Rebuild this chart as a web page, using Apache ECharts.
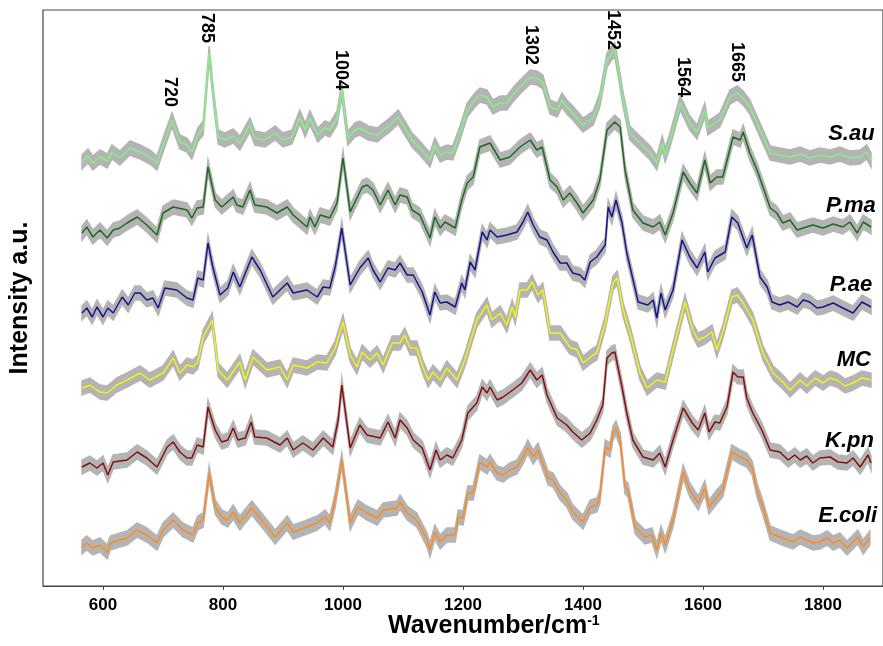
<!DOCTYPE html>
<html>
<head>
<meta charset="utf-8">
<script src="https://cdn.jsdelivr.net/npm/echarts@6/dist/echarts.min.js"></script>
<style>
  html, body { margin: 0; padding: 0; background: #fff; }
  #chart { width: 883px; height: 646px; }
</style>
</head>
<body>
<div id="chart"></div>
<script>
// spectra: [wavenumber, intensity (a.u., offset per strain)]
const sau = [[565,424],[575,430],[583,423],[595,429],[607,425],[615,434],[628,428],[645,438],[662,434],[678,429],[690,423],[703,446],[715,466],[728,444],[740,441],[748,434],[758,451],[767,458],[777,533],[783,496],[792,449],[803,446],[817,450],[828,443],[845,461],[853,448],[870,446],[887,453],[900,446],[915,449],[928,469],[937,456],[945,468],[958,451],[970,458],[978,456],[990,468],[998,496],[1008,448],[1020,456],[1028,458],[1042,453],[1057,451],[1067,456],[1078,461],[1092,469],[1103,458],[1115,446],[1128,438],[1145,426],[1153,441],[1162,431],[1173,434],[1183,433],[1195,453],[1207,476],[1220,486],[1228,491],[1240,489],[1250,479],[1262,483],[1273,483],[1283,491],[1295,499],[1312,509],[1323,508],[1333,504],[1345,479],[1357,476],[1365,486],[1373,479],[1383,473],[1400,461],[1417,468],[1428,486],[1440,526],[1448,533],[1453,536],[1458,519],[1467,486],[1478,453],[1495,443],[1512,433],[1523,423],[1532,443],[1537,431],[1545,446],[1562,483],[1578,463],[1590,454],[1603,476],[1608,458],[1628,466],[1645,489],[1657,493],[1667,488],[1678,479],[1695,456],[1712,433],[1728,431],[1745,429],[1762,432],[1778,428],[1795,431],[1812,429],[1828,432],[1845,428],[1862,429],[1873,434],[1880,426]];
const pma = [[565,353],[573,359],[583,349],[595,356],[607,348],[617,356],[628,358],[640,363],[657,369],[673,361],[690,351],[700,373],[717,379],[740,376],[748,368],[757,378],[767,379],[775,419],[787,386],[798,379],[817,389],[823,381],[833,379],[845,396],[853,381],[873,379],[890,373],[907,379],[917,371],[940,359],[945,369],[953,359],[962,371],[978,368],[990,383],[1000,428],[1012,374],[1032,399],[1040,401],[1050,396],[1062,381],[1075,396],[1087,381],[1095,391],[1107,389],[1115,376],[1128,371],[1145,348],[1153,369],[1162,358],[1170,364],[1187,358],[1198,386],[1207,403],[1217,409],[1228,439],[1245,443],[1262,426],[1278,429],[1295,439],[1312,446],[1323,436],[1332,439],[1345,406],[1357,399],[1367,386],[1378,393],[1390,383],[1400,373],[1417,386],[1428,406],[1440,456],[1453,464],[1462,459],[1470,416],[1483,376],[1500,363],[1517,359],[1528,364],[1537,351],[1550,373],[1567,414],[1578,403],[1590,393],[1603,426],[1612,403],[1623,409],[1633,409],[1650,449],[1662,446],[1667,454],[1678,433],[1690,416],[1700,399],[1712,378],[1723,373],[1733,363],[1745,366],[1757,356],[1767,358],[1783,361],[1800,358],[1817,362],[1833,359],[1845,364],[1857,353],[1867,364],[1880,359]];
const pae = [[565,273],[573,278],[582,269],[590,279],[600,269],[608,278],[617,273],[632,289],[642,281],[653,293],[662,293],[673,286],[683,288],[692,278],[703,298],[723,296],[740,288],[750,286],[758,308],[767,306],[775,343],[783,319],[795,291],[808,298],[817,314],[828,299],[848,329],[862,316],[883,289],[907,303],[917,293],[940,296],[957,289],[967,299],[978,298],[987,319],[998,358],[1012,301],[1028,318],[1042,328],[1050,316],[1062,304],[1075,318],[1087,316],[1095,323],[1107,311],[1117,311],[1132,294],[1145,271],[1153,294],[1162,283],[1173,284],[1187,279],[1198,303],[1203,296],[1212,324],[1220,316],[1232,354],[1240,346],[1245,356],[1257,349],[1273,351],[1290,354],[1300,364],[1308,374],[1317,361],[1328,349],[1340,346],[1350,334],[1362,323],[1373,323],[1383,313],[1395,311],[1403,306],[1412,324],[1423,329],[1437,341],[1442,379],[1448,369],[1455,386],[1465,363],[1473,333],[1492,284],[1508,281],[1517,286],[1523,268],[1530,293],[1537,276],[1550,296],[1565,346],[1578,329],[1590,318],[1603,334],[1608,314],[1620,328],[1637,334],[1648,369],[1658,363],[1673,338],[1682,351],[1695,309],[1707,299],[1715,284],[1728,281],[1742,284],[1757,279],[1767,286],[1778,284],[1790,278],[1800,279],[1817,283],[1833,278],[1850,273],[1865,284],[1880,279]];
const mc = [[565,198],[578,201],[595,194],[607,193],[623,201],[640,206],[662,213],[678,206],[700,213],[717,228],[728,213],[740,221],[750,219],[758,224],[767,249],[782,266],[792,216],[807,206],[828,224],[837,206],[850,229],[873,216],[895,219],[907,206],[917,221],[940,218],[957,224],[973,223],[987,238],[1000,264],[1012,231],[1023,219],[1032,234],[1045,226],[1057,233],[1067,221],[1082,243],[1095,243],[1103,251],[1112,238],[1123,238],[1133,219],[1142,206],[1150,214],[1162,206],[1173,218],[1190,206],[1203,226],[1223,266],[1240,281],[1248,266],[1262,273],[1273,261],[1282,279],[1287,269],[1295,296],[1307,296],[1315,304],[1325,291],[1333,296],[1345,253],[1362,253],[1378,239],[1390,236],[1400,223],[1417,231],[1423,233],[1437,263],[1450,303],[1457,308],[1467,276],[1478,254],[1495,213],[1507,198],[1523,206],[1537,204],[1550,236],[1570,284],[1583,256],[1592,246],[1603,249],[1615,254],[1623,236],[1633,254],[1648,289],[1657,291],[1667,283],[1683,266],[1700,233],[1717,213],[1733,204],[1745,196],[1762,206],[1773,200],[1787,208],[1800,203],[1812,208],[1823,206],[1837,200],[1850,203],[1865,208],[1880,206]];
const kpn = [[565,119],[578,123],[590,118],[600,123],[608,111],[617,124],[640,126],[657,134],[673,128],[690,119],[707,139],[717,144],[728,134],[740,128],[748,128],[757,141],[767,139],[775,179],[787,156],[798,144],[808,146],[817,158],[825,146],[837,148],[847,164],[853,149],[873,148],[895,141],[907,148],[917,136],[933,143],[950,136],[967,148],[983,139],[992,166],[998,201],[1012,138],[1028,161],[1040,151],[1062,148],[1075,164],[1087,148],[1095,166],[1107,158],[1117,146],[1132,138],[1145,116],[1155,136],[1162,126],[1173,131],[1183,128],[1198,146],[1208,173],[1223,183],[1232,199],[1240,193],[1245,199],[1257,186],[1267,189],[1283,196],[1298,203],[1312,216],[1323,206],[1332,211],[1340,191],[1357,168],[1373,161],[1383,154],[1398,146],[1412,153],[1423,166],[1433,181],[1440,228],[1448,233],[1453,234],[1465,199],[1473,173],[1483,146],[1500,129],[1517,126],[1528,133],[1537,119],[1550,146],[1567,178],[1582,163],[1592,156],[1603,173],[1610,154],[1620,164],[1628,163],[1640,179],[1650,214],[1658,209],[1667,209],[1673,188],[1683,173],[1698,156],[1712,136],[1728,134],[1742,126],[1753,131],[1762,126],[1773,130],[1783,123],[1795,128],[1812,129],[1825,124],[1840,123],[1850,128],[1862,119],[1875,131],[1880,123]];
const ecoli = [[565,39],[573,43],[583,38],[595,41],[607,34],[612,43],[628,46],[640,48],[657,56],[673,51],[690,43],[700,56],[717,66],[733,56],[750,51],[758,63],[767,66],[777,113],[787,79],[798,69],[808,66],[817,74],[828,63],[848,78],[867,64],[887,49],[907,63],[917,54],[940,59],[957,63],[970,69],[978,63],[987,86],[998,126],[1012,63],[1025,79],[1040,73],[1057,68],[1067,76],[1090,78],[1095,84],[1107,73],[1123,66],[1140,46],[1145,36],[1153,54],[1162,44],[1173,51],[1187,51],[1192,69],[1200,68],[1208,93],[1217,93],[1228,124],[1240,119],[1245,124],[1257,113],[1267,111],[1278,116],[1290,119],[1300,129],[1308,139],[1317,129],[1325,136],[1333,123],[1342,108],[1350,106],[1362,93],[1373,86],[1383,74],[1400,64],[1412,79],[1423,81],[1428,89],[1437,139],[1445,136],[1450,153],[1455,158],[1462,146],[1470,99],[1475,96],[1487,59],[1503,49],[1515,51],[1523,36],[1530,53],[1537,41],[1550,66],[1567,114],[1578,96],[1592,83],[1603,98],[1610,79],[1623,89],[1633,96],[1648,134],[1662,129],[1673,126],[1682,118],[1690,96],[1700,78],[1712,53],[1728,49],[1750,44],[1762,49],[1773,46],[1783,43],[1795,44],[1807,48],[1817,43],[1828,46],[1840,38],[1850,44],[1858,49],[1867,39],[1878,48]];

const names = ['S.au', 'P.ma', 'P.ae', 'MC', 'K.pn', 'E.coli'];
const colors = ['#86f086', '#1d6b1d', '#16168f', '#f2f214', '#861010', '#ff8a1e'];
const spectra = [sau, pma, pae, mc, kpn, ecoli];
// where the strain name sits (right edge, vertical middle)
const nameAt = [[1886, 452], [1888, 380], [1882, 301], [1880, 226], [1885, 145], [1890, 70]];
// peak labels over the top spectrum
const peaks = ['720', '785', '1004', '1302', '1452', '1564', '1665'];
const peakAt = [[712, 494], [773, 558], [997, 516], [1313, 541], [1450, 556], [1567, 509], [1657, 524]];
const xTicks = [600, 800, 1000, 1200, 1400, 1600, 1800];
const sd = 7;

const chart = echarts.init(document.getElementById('chart'));

const bandSeries = (pts) => ({
  type: 'custom',
  silent: true,
  z: 1,
  data: [pts[0]],
  renderItem: (params, api) => {
    const up = pts.map(p => api.coord([p[0], p[1] + sd]));
    const lo = pts.map(p => api.coord([p[0], p[1] - sd])).reverse();
    return {
      type: 'polygon',
      shape: { points: up.concat(lo) },
      style: { fill: '#b4b4b4', stroke: '#b4b4b4', lineWidth: 1.5 }
    };
  }
});

const series = [];
spectra.forEach((pts, i) => {
  series.push(bandSeries(pts));
  const s = {
    type: 'line',
    name: names[i],
    data: pts,
    symbol: 'none',
    z: 2,
    lineStyle: { color: colors[i], width: 1.5 },
    markPoint: {
      symbolSize: 0,
      silent: true,
      label: {
        show: true,
        position: 'left',
        distance: 0,
        formatter: '{b}',
        color: '#000',
        fontSize: 22,
        fontWeight: 'bold',
        fontStyle: 'italic',
        fontFamily: 'Liberation Sans, Arial'
      },
      data: [{ name: names[i], coord: nameAt[i] }]
    }
  };
  if (i === 0) {
    s.markPoint.data = s.markPoint.data.concat(peaks.map((p, k) => ({
      name: p,
      coord: peakAt[k],
      label: { position: 'inside', rotate: -90, fontSize: 18, fontStyle: 'normal', fontWeight: 'bold' }
    })));
  }
  series.push(s);
});

chart.setOption({
  animation: false,
  grid: { left: 43, right: -10, top: 10, bottom: 60, show: true, borderColor: '#444', borderWidth: 1.2 },
  xAxis: {
    type: 'value',
    min: 500,
    max: 1900,
    axisLine: { lineStyle: { color: '#444', width: 1.2 } },
    axisTick: { show: true, length: 4, lineStyle: { color: '#444' }, customValues: xTicks },
    axisLabel: {
      color: '#000',
      fontSize: 17,
      fontWeight: 'bold',
      fontFamily: 'Liberation Sans, Arial',
      margin: 11,
      customValues: xTicks,
      formatter: v => String(v)
    },
    splitLine: { show: false }
  },
  yAxis: {
    type: 'value',
    min: 0,
    max: 576,
    axisLine: { show: false },
    axisTick: { show: false },
    axisLabel: { show: false },
    splitLine: { show: false }
  },
  graphic: [
    {
      type: 'text',
      left: 388,
      top: 614,
      style: {
        text: '{a|Wavenumber/cm}{b|-1}',
        rich: {
          a: { fontSize: 25, fontWeight: 'bold', fontFamily: 'Liberation Sans, Arial', fill: '#000' },
          b: { fontSize: 14, fontWeight: 'bold', fontFamily: 'Liberation Sans, Arial', fill: '#000', verticalAlign: 'top', padding: [0, 0, 11, 0] }
        }
      }
    },
    {
      type: 'text',
      x: 20,
      y: 298,
      rotation: Math.PI / 2,
      style: {
        text: 'Intensity a.u.',
        fontSize: 25,
        fontWeight: 'bold',
        fontFamily: 'Liberation Sans, Arial',
        fill: '#000',
        align: 'center',
        verticalAlign: 'middle'
      }
    }
  ],
  series: series
});
</script>
</body>
</html>
